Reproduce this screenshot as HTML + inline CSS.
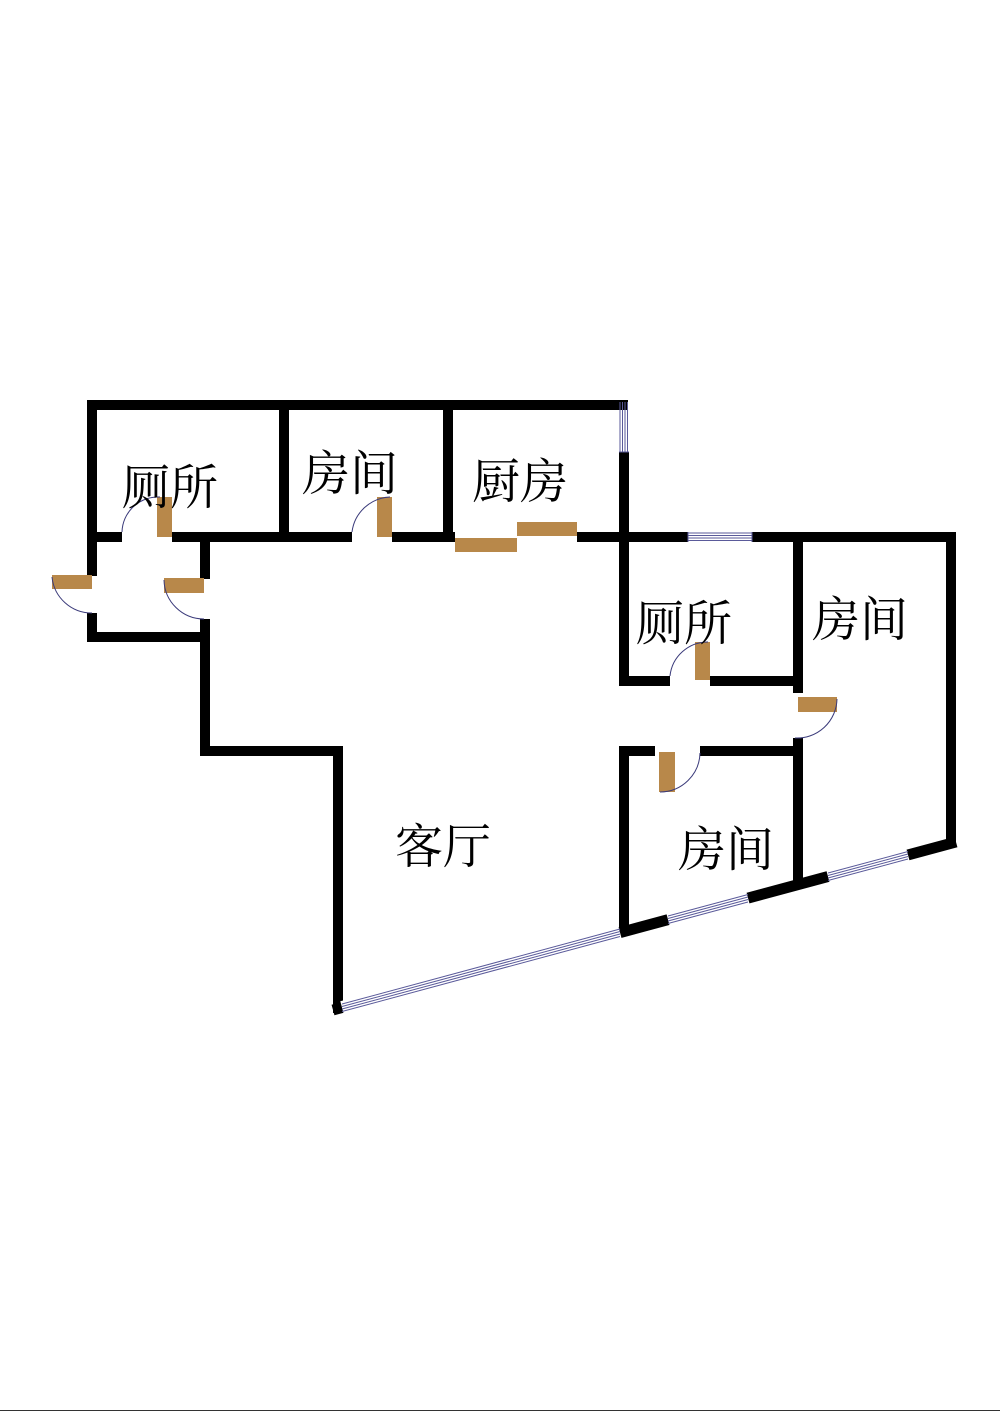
<!DOCTYPE html>
<html><head><meta charset="utf-8"><style>
html,body{margin:0;padding:0;background:#fff;}
svg{display:block}
text{font-family:"Liberation Serif","Noto Serif CJK SC",serif;font-size:48px;fill:#000}
</style></head><body>
<svg width="1000" height="1413" viewBox="0 0 1000 1413" xmlns="http://www.w3.org/2000/svg">
<rect width="1000" height="1413" fill="#fff"/>
<line x1="0" y1="1410.5" x2="1000" y2="1410.5" stroke="#333" stroke-width="1"/>
<g fill="#000">
<rect x="87" y="400" width="541" height="10"/>
<rect x="87" y="400" width="10" height="176"/>
<rect x="87" y="613" width="10" height="28"/>
<rect x="87" y="632" width="122" height="10"/>
<rect x="200" y="537" width="10" height="42"/>
<rect x="200" y="619" width="10" height="136"/>
<rect x="200" y="746" width="142" height="10"/>
<rect x="333" y="746" width="10" height="267"/>
<rect x="279" y="400" width="10" height="141"/>
<rect x="443" y="400" width="10" height="141"/>
<rect x="87" y="532" width="35" height="10"/>
<rect x="172" y="532" width="180" height="10"/>
<rect x="392" y="532" width="63" height="10"/>
<rect x="577" y="532" width="51" height="10"/>
<rect x="619" y="452" width="10" height="233"/>
<rect x="619" y="532" width="69" height="10"/>
<rect x="752" y="532" width="203" height="10"/>
<rect x="946" y="532" width="10" height="313"/>
<rect x="619" y="676" width="51" height="10"/>
<rect x="710" y="676" width="90" height="10"/>
<rect x="793" y="532" width="10" height="161"/>
<rect x="793" y="738" width="10" height="144"/>
<rect x="619" y="746" width="36" height="10"/>
<rect x="700" y="746" width="102" height="10"/>
<rect x="619" y="746" width="10" height="189"/>
</g>
<line x1="333" y1="1010" x2="956" y2="842" stroke="#000" stroke-width="11"/>
<g>
<line x1="342" y1="1007.5" x2="620" y2="932.5" stroke="#fff" stroke-width="13"/>
<line x1="668" y1="919.5" x2="748" y2="898" stroke="#fff" stroke-width="13"/>
<line x1="828" y1="876.5" x2="908" y2="855" stroke="#fff" stroke-width="13"/>
<g stroke="#5a5a9a" stroke-width="1">
<line x1="342" y1="1004" x2="620" y2="929"/><line x1="342" y1="1006.5" x2="620" y2="931.5"/><line x1="342" y1="1009" x2="620" y2="934"/><line x1="342" y1="1011.5" x2="620" y2="936.5"/>
<line x1="668" y1="916" x2="748" y2="894.5"/><line x1="668" y1="918.5" x2="748" y2="897"/><line x1="668" y1="921" x2="748" y2="899.5"/><line x1="668" y1="923.5" x2="748" y2="902"/>
<line x1="828" y1="873" x2="908" y2="851.5"/><line x1="828" y1="875.5" x2="908" y2="854"/><line x1="828" y1="878" x2="908" y2="856.5"/><line x1="828" y1="880.5" x2="908" y2="859"/>
</g>
<g stroke="#5a5a9a" stroke-width="1">
<line x1="688" y1="533" x2="752" y2="533"/><line x1="688" y1="535.5" x2="752" y2="535.5"/><line x1="688" y1="538" x2="752" y2="538"/><line x1="688" y1="540.5" x2="752" y2="540.5"/>
<line x1="688" y1="532" x2="688" y2="542"/><line x1="752" y1="532" x2="752" y2="542"/>
<line x1="620" y1="402" x2="620" y2="452"/><line x1="622.5" y1="402" x2="622.5" y2="452"/><line x1="625" y1="402" x2="625" y2="452"/><line x1="627.5" y1="402" x2="627.5" y2="452"/>
<line x1="619" y1="452" x2="629" y2="452"/>
</g>
</g>
<g fill="#b8884a">
<rect x="52" y="575" width="40" height="14"/>
<rect x="164" y="578" width="40" height="15"/>
<rect x="157" y="497" width="15" height="40"/>
<rect x="377" y="497" width="15" height="40"/>
<rect x="455" y="538" width="62" height="14"/>
<rect x="517" y="522" width="60" height="14"/>
<rect x="695" y="642" width="15" height="38"/>
<rect x="798" y="697" width="39" height="15"/>
<rect x="659" y="752" width="16" height="40"/>
</g>
<g fill="none" stroke="#3a3a7a" stroke-width="1">
<path d="M52 577 A40 40 0 0 0 92 613"/>
<path d="M164 580 A40 40 0 0 0 204 619"/>
<path d="M122 532 A36 36 0 0 1 160 497"/>
<path d="M352 532 A40 40 0 0 1 390 497"/>
<path d="M670 676 A38 38 0 0 1 708 642"/>
<path d="M837 699 A40 40 0 0 1 795 738"/>
<path d="M700 753 A40 40 0 0 1 660 792"/>
</g>
<text x="122" y="504">厕所</text>
<text x="302" y="490">房间</text>
<text x="472" y="498">厨房</text>
<text x="636" y="640">厕所</text>
<text x="812" y="636">房间</text>
<text x="395" y="863">客厅</text>
<text x="678" y="866">房间</text>
</svg>
</body></html>
